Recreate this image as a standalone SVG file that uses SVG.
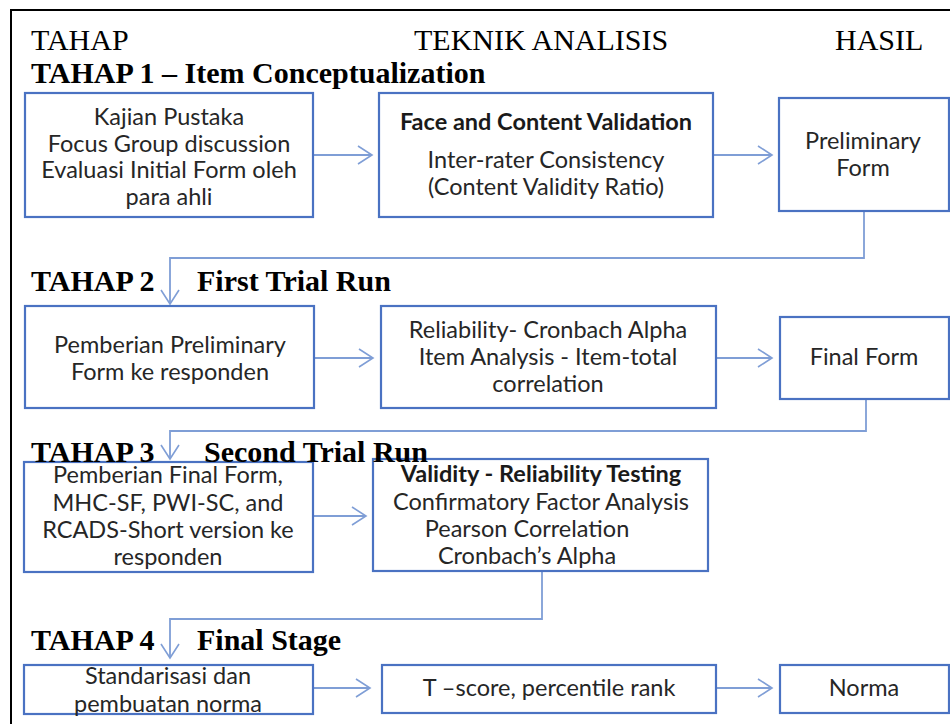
<svg xmlns="http://www.w3.org/2000/svg" width="950" height="724" viewBox="0 0 950 724">
<defs>
<marker id="ah" markerUnits="userSpaceOnUse" markerWidth="20" markerHeight="22" refX="15" refY="10" orient="auto">
<path d="M1,1 L15,10 L1,19" fill="none" stroke="#7F9ED6" stroke-width="1.6"/>
</marker>
<style>
.hd{font-family:"Liberation Serif","Times New Roman",serif;font-size:30px;fill:#000}
.hb{font-family:"Liberation Serif","Times New Roman",serif;font-size:30px;font-weight:bold;fill:#000}
.bx{fill:#fff;stroke:#4A72C2;stroke-width:2.2}
.t{font-family:Lato,"Open Sans",sans-serif;font-size:23.5px;fill:#262626;text-anchor:middle}
.tb{font-family:Lato,"Open Sans",sans-serif;font-size:23.5px;font-weight:bold;fill:#1a1a1a;text-anchor:middle}
.c{fill:none;stroke:#7F9ED6;stroke-width:1.8}
</style>
</defs>
<rect width="950" height="724" fill="#fff"/>
<g id="frame">
<line x1="10" y1="10" x2="950" y2="10" stroke="#000" stroke-width="2"/>
<line x1="11" y1="10" x2="11" y2="724" stroke="#000" stroke-width="2"/>
</g>
<g id="headers">
<text class="hd" x="31" y="50">TAHAP</text>
<text class="hd" x="414" y="50">TEKNIK ANALISIS</text>
<text class="hd" x="835" y="50">HASIL</text>
<text class="hb" x="31" y="83">TAHAP 1 – Item Conceptualization</text>
<text class="hb" x="31" y="291">TAHAP 2</text>
<text class="hb" x="197" y="291">First Trial Run</text>
</g>
<g id="connectors">
<line class="c" x1="313" y1="155" x2="372" y2="155" marker-end="url(#ah)"/>
<line class="c" x1="713" y1="155" x2="772" y2="155" marker-end="url(#ah)"/>
<polyline class="c" points="864,211 864,258 170,258 170,304" marker-end="url(#ah)"/>
<line class="c" x1="314" y1="358" x2="373" y2="358" marker-end="url(#ah)"/>
<line class="c" x1="716" y1="358" x2="772" y2="358" marker-end="url(#ah)"/>
<polyline class="c" points="866,399 866,431 170,431 170,459" marker-end="url(#ah)"/>
<line class="c" x1="313" y1="516" x2="366" y2="516" marker-end="url(#ah)"/>
<polyline class="c" points="542,571 542,619 170,619 170,658" marker-end="url(#ah)"/>
<line class="c" x1="313" y1="688" x2="370" y2="688" marker-end="url(#ah)"/>
<line class="c" x1="716" y1="688" x2="772" y2="688" marker-end="url(#ah)"/>
</g>
<g id="n1">
<rect class="bx" x="25" y="93" width="288" height="124"/>
<text class="t" x="169" y="125">Kajian Pustaka</text>
<text class="t" x="169" y="152">Focus Group discussion</text>
<text class="t" x="169" y="178">Evaluasi Initial Form oleh</text>
<text class="t" x="169" y="205">para ahli</text>
</g>
<g id="n2">
<rect class="bx" x="379" y="93" width="334" height="124"/>
<text class="tb" x="546" y="130">Face and Content Validation</text>
<text class="t" x="546" y="168">Inter-rater  Consistency</text>
<text class="t" x="546" y="195">(Content Validity Ratio)</text>
</g>
<g id="n3">
<rect class="bx" x="779" y="98" width="170" height="113"/>
<text class="t" x="863" y="149">Preliminary</text>
<text class="t" x="863" y="176">Form</text>
</g>
<g id="n4">
<rect class="bx" x="25" y="306" width="289" height="102"/>
<text class="t" x="170" y="353">Pemberian Preliminary</text>
<text class="t" x="170" y="380">Form ke responden</text>
</g>
<g id="n5">
<rect class="bx" x="381" y="306" width="335" height="102"/>
<text class="t" x="548" y="338">Reliability- Cronbach Alpha</text>
<text class="t" x="548" y="365">Item Analysis - Item-total</text>
<text class="t" x="548" y="392">correlation</text>
</g>
<g id="n6">
<rect class="bx" x="780" y="317" width="169" height="82"/>
<text class="t" x="864" y="365">Final Form</text>
</g>
<g id="n7">
<rect class="bx" x="24" y="462" width="289" height="110"/>
<text class="t" x="168" y="483">Pemberian Final Form,</text>
<text class="t" x="168" y="511">MHC-SF, PWI-SC, and</text>
<text class="t" x="168" y="538">RCADS-Short version ke</text>
<text class="t" x="168" y="565">responden</text>
</g>
<g id="n8">
<rect class="bx" x="373" y="459" width="335" height="112"/>
<text class="tb" x="541" y="482">Validity - Reliability Testing</text>
<text class="t" x="541" y="510">Confirmatory Factor Analysis</text>
<text class="t" x="527" y="537">Pearson Correlation</text>
<text class="t" x="527" y="564">Cronbach’s Alpha</text>
</g>
<g id="stage-labels">
<text class="hb" x="31" y="462">TAHAP 3</text>
<text class="hb" x="204" y="462">Second Trial Run</text>
<text class="hb" x="31" y="650">TAHAP 4</text>
<text class="hb" x="197" y="650">Final Stage</text>
</g>
<g id="n9">
<rect class="bx" x="24" y="665" width="289" height="49"/>
<text class="t" x="168" y="684">Standarisasi dan</text>
<text class="t" x="168" y="712">pembuatan norma</text>
</g>
<g id="n10">
<rect class="bx" x="382" y="665" width="334" height="48"/>
<text class="t" x="549" y="696">T –score, percentile rank</text>
</g>
<g id="n11">
<rect class="bx" x="780" y="665" width="169" height="48"/>
<text class="t" x="864" y="696">Norma</text>
</g>
</svg>
